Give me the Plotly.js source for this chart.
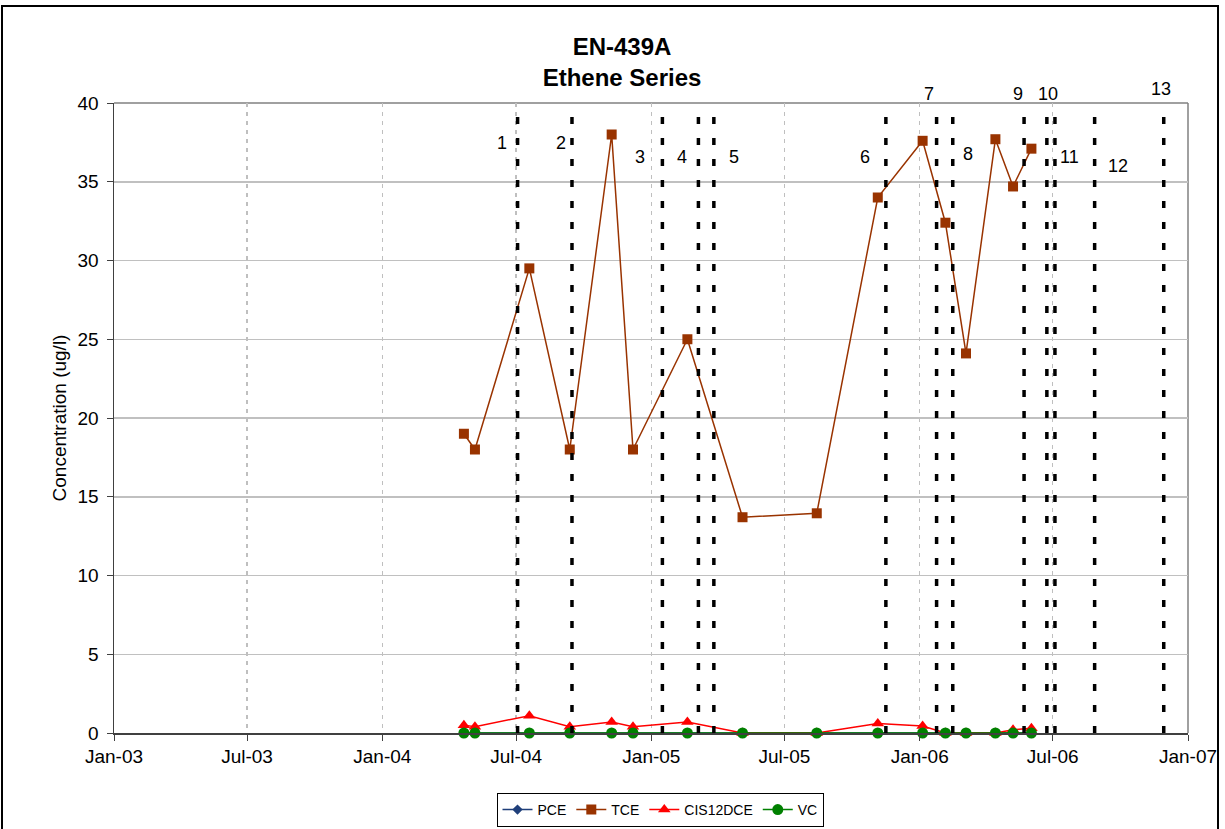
<!DOCTYPE html>
<html><head><meta charset="utf-8">
<script src="https://cdn.plot.ly/plotly-3.0.1.min.js"></script>
<style>html,body{margin:0;padding:0;background:#fff}#chart{width:1225px;height:829px}</style>
</head><body><div id="chart"></div>
<script>
// ---- data ----
const sampleDates = ['2004-04-21','2004-05-06','2004-07-19','2004-09-12','2004-11-08','2004-12-07',
  '2005-02-19','2005-05-05','2005-08-14','2005-11-05','2006-01-05','2006-02-05','2006-03-05',
  '2006-04-14','2006-05-08','2006-06-02'];
const pce      = [0,0,0,0,0,0,0,0,0,0,0,0,0,0,0,0];
const tce      = [19.0,18.0,29.5,18.0,38.0,18.0,25.0,13.7,13.95,34.0,37.6,32.4,24.1,37.7,34.7,37.1];
const cis12dce = [0.5,0.4,1.1,0.4,0.7,0.4,0.7,0,0,0.6,0.45,0,0,0,0.2,0.3];
const vc       = [0,0,0,0,0,0,0,0,0,0,0,0,0,0,0,0];
const eventDates  = ['2004-07-03','2004-09-15','2005-01-16','2005-03-06','2005-03-27','2005-11-16',
  '2006-01-24','2006-02-15','2006-05-23','2006-06-23','2006-07-04','2006-08-27','2006-11-29'];
const eventLabels = ['1','2','3','4','5','6','7','8','9','10','11','12','13'];
const yTicks = [0,5,10,15,20,25,30,35,40];

// ---- label placement (style, not data) ----
const labelPos = [
  {dx:-16,py:143},{dx:-11,py:143},{dx:-22,py:157},{dx:-16,py:157},{dx:20,py:157},{dx:-21,py:157},
  {dx:-8,py:94},{dx:15,py:154},{dx:-6,py:94},{dx:1,py:94},{dx:15,py:157},{dx:23,py:166},{dx:-3,py:89}
];
const M = {l:114, r:37, t:103, b:96};
const H = 829, plotH = H - M.t - M.b;
const pyToPaper = py => (H - M.b - py) / plotH;

const font = 'Arial, "Liberation Sans", sans-serif';
const series = [
  {name:'PCE', y:pce, color:'#1F3F7A', symbol:'diamond', size:8},
  {name:'TCE', y:tce, color:'#993300', symbol:'square', size:10},
  {name:'CIS12DCE', y:cis12dce, color:'#FF0000', symbol:'triangle-up', size:11},
  {name:'VC', y:vc, color:'#008000', symbol:'circle', size:11}
];
const traces = series.map(s => ({
  type:'scatter', mode:'lines+markers', name:s.name, x:sampleDates, y:s.y,
  line:{color:s.color, width:1.5},
  marker:{color:s.color, symbol:s.symbol, size:s.size, line:{width:0}},
  cliponaxis:false
}));

const shapes = eventDates.map(d => ({
  type:'line', xref:'x', yref:'paper', x0:d, x1:d, y0:0, y1:1,
  line:{color:'#000', width:3.5, dash:'7px,14px'}, layer:'above'
}));
// plot area top/right border
shapes.push({type:'line', xref:'paper', yref:'paper', x0:0, x1:1, y0:1, y1:1, line:{color:'#808080', width:1.5}, layer:'below'});
shapes.push({type:'line', xref:'paper', yref:'paper', x0:1, x1:1, y0:0, y1:1, line:{color:'#808080', width:1.5}, layer:'below'});
// outer chart border
shapes.push({type:'rect', xref:'paper', yref:'paper', x0:(2-114)/1074, x1:(1218-114)/1074,
  y0:-0.2, y1:pyToPaper(6), line:{color:'#000', width:2}, fillcolor:'rgba(0,0,0,0)'});

const annotations = eventLabels.map((t,i) => ({
  xref:'x', yref:'paper', x:eventDates[i], y:pyToPaper(labelPos[i].py),
  xshift:labelPos[i].dx, text:t, showarrow:false, xanchor:'center', yanchor:'middle',
  font:{family:font, size:18, color:'#000'}
}));

const layout = {
  width:1225, height:829, margin:M,
  paper_bgcolor:'#fff', plot_bgcolor:'#fff',
  title:{text:'<b>EN-439A<br>Ethene Series</b>', font:{family:font, size:24, color:'#000'},
    x:622/1225, xanchor:'center', y:1-55/829, yanchor:'middle', yref:'container', automargin:false},
  xaxis:{type:'date', range:['2003-01-01','2007-01-01'], tick0:'2003-01-01', dtick:'M6',
    tickformat:'%b-%y', ticks:'outside', ticklen:6, tickcolor:'#404040',
    showgrid:true, gridcolor:'#BFBFBF', gridwidth:1.5, griddash:'4px,5px',
    showline:true, linecolor:'#404040', linewidth:1.5, zeroline:false,
    tickfont:{family:font, size:19, color:'#000'}, automargin:false},
  yaxis:{range:[0,40], tickvals:yTicks, ticks:'outside', ticklen:6, tickcolor:'#404040',
    showgrid:true, gridcolor:'#C0C0C0', gridwidth:1.5,
    showline:true, linecolor:'#404040', linewidth:1.5, zeroline:false, ticklabelstandoff:4,
    tickfont:{family:font, size:19, color:'#000'}, automargin:false,
    title:{text:'Concentration (ug/l)', font:{family:font, size:19, color:'#000'}}},
  showlegend:true,
  legend:{orientation:'h', xref:'container', yref:'container', x:660/1225, xanchor:'center',
    y:1-827/829, yanchor:'bottom',
    bordercolor:'#000', borderwidth:1, bgcolor:'#fff', font:{family:font, size:14, color:'#000'},
    itemwidth:30, tracegroupgap:0},
  shapes:shapes, annotations:annotations
};
Plotly.newPlot('chart', traces, layout, {displayModeBar:false, staticPlot:true});
</script></body></html>
